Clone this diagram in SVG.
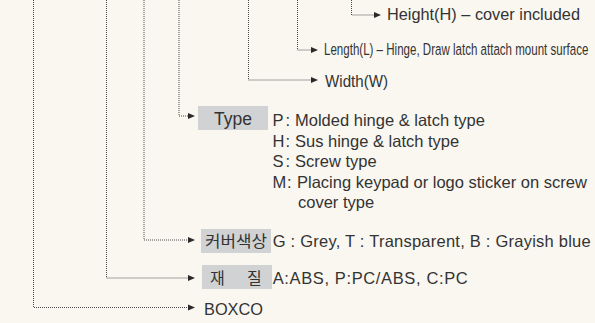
<svg xmlns="http://www.w3.org/2000/svg" width="595" height="323" viewBox="0 0 595 323">
<defs>
<marker id="arr" markerUnits="userSpaceOnUse" markerWidth="8" markerHeight="7" refX="0" refY="3" orient="auto" overflow="visible">
<path d="M0,0 L7,3 L0,6 Z" fill="#2a2a2a"/>
</marker>
<style>
.c{fill:none;stroke:#4a4a4a;stroke-width:1;stroke-dasharray:1 1;marker-end:url(#arr)}
.t{font-family:"Liberation Sans",Arial,sans-serif;font-size:16.5px;fill:#333}
.k{font-family:"Noto Sans CJK KR","Liberation Sans",sans-serif;font-size:16px;fill:#333}
.b{fill:#d1d2d4}
</style>
</defs>
<rect width="595" height="323" fill="#faf7f1"/>
<g id="connectors">
<path class="c" d="M33.5,0 V307.5 H188"/>
<path class="c" d="M106.5,0 V278 H188"/>
<path class="c" d="M144,0 V240 H188"/>
<path class="c" d="M179,0 V116 H188"/>
<path class="c" d="M248.5,0 V80 H311"/>
<path class="c" d="M297.5,0 V50 H311"/>
<path class="c" d="M351.5,0 V15 H374"/>
</g>
<g id="height"><text class="t" x="387" y="20" textLength="193" lengthAdjust="spacingAndGlyphs">Height(H) – cover included</text></g>
<g id="length"><text class="t" transform="translate(324,55) scale(0.7,1)" x="0" y="0">Length(L) – Hinge, Draw latch attach mount surface</text></g>
<g id="width"><text class="t" x="325" y="87" textLength="63" lengthAdjust="spacingAndGlyphs">Width(W)</text></g>
<g id="type">
<rect class="b" x="198" y="106" width="70" height="24"/>
<text class="t" x="233" y="124.5" text-anchor="middle" style="font-size:17.5px">Type</text>
<text class="t" x="272.5 285.5 295" y="126">P:Molded hinge &amp; latch type</text>
<text class="t" x="272.5 285.5 295" y="146.5">H:Sus hinge &amp; latch type</text>
<text class="t" x="272.5 285.5 295" y="167">S:Screw type</text>
<text class="t" x="272.5 287 297" y="187.5">M:Placing keypad or logo sticker on screw</text>
<text class="t" x="298" y="207.5">cover type</text>
</g>
<g id="color">
<rect class="b" x="201" y="229" width="70" height="24"/>
<text class="k" x="205" y="246.5" textLength="62" lengthAdjust="spacingAndGlyphs">커버색상</text>
<text class="t" x="272.7" y="246.5" textLength="318" lengthAdjust="spacing">G : Grey, T : Transparent, B : Grayish blue</text>
</g>
<g id="material">
<rect class="b" x="202" y="265" width="70" height="24"/>
<text class="k" x="210 230 247" y="283.5">재 질</text>
<text class="t" x="272.7" y="283.5" textLength="195" lengthAdjust="spacing">A:ABS, P:PC/ABS, C:PC</text>
</g>
<g id="boxco"><text class="t" x="204" y="315" textLength="59" lengthAdjust="spacingAndGlyphs">BOXCO</text></g>
</svg>
